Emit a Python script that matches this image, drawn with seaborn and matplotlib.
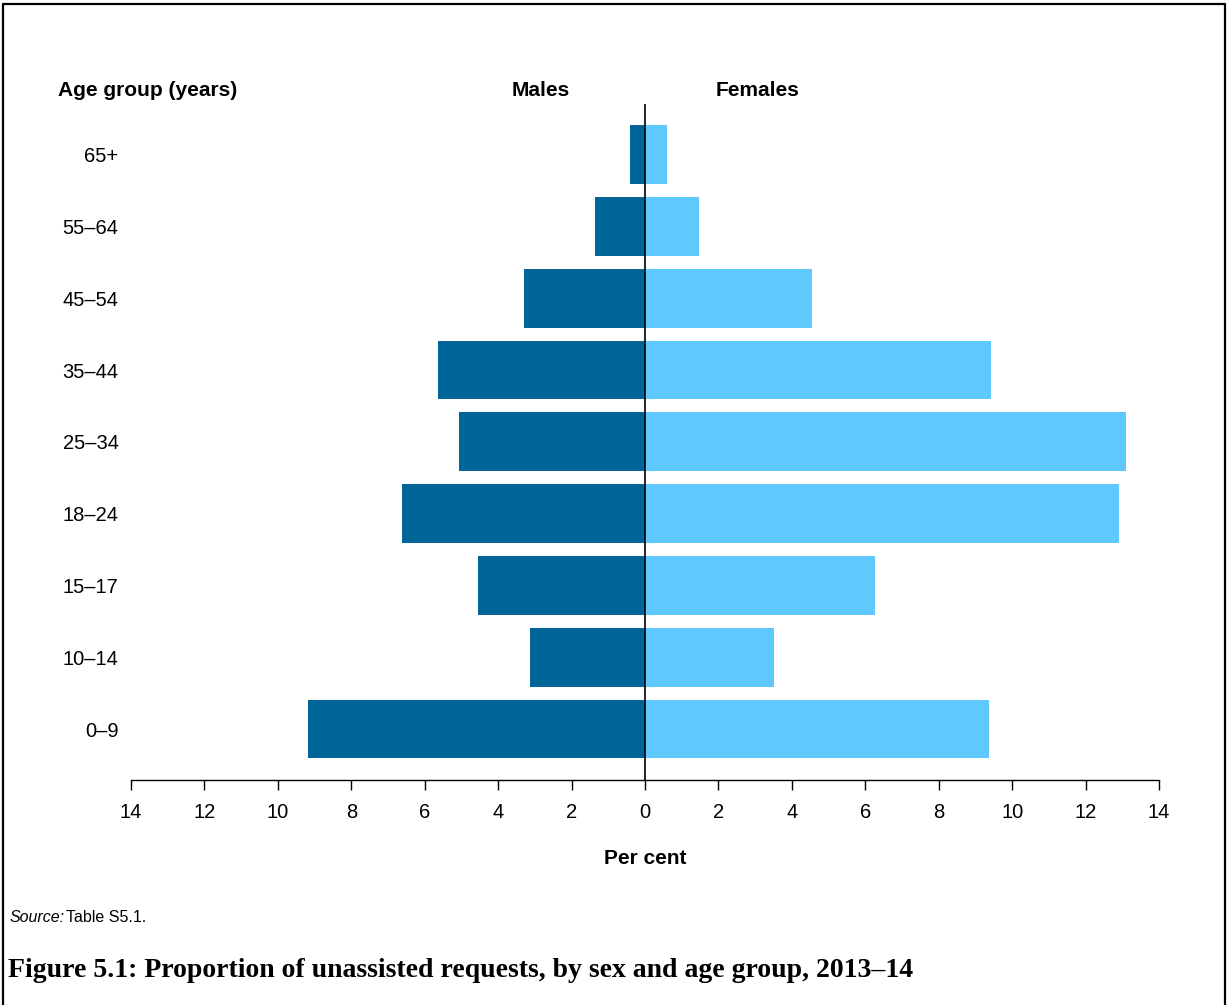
import numpy as np
import pandas as pd
import matplotlib
matplotlib.use("Agg")
import matplotlib.pyplot as plt
import seaborn as sns
from matplotlib.lines import Line2D

# ---- data ----
age_groups = ["65+", "55–64", "45–54", "35–44", "25–34", "18–24", "15–17", "10–14", "0–9"]
males = [0.41, 1.35, 3.30, 5.65, 5.07, 6.62, 4.56, 3.14, 9.18]
females = [0.60, 1.46, 4.56, 9.42, 13.11, 12.91, 6.27, 3.51, 9.38]
x_ticks = [-14, -12, -10, -8, -6, -4, -2, 0, 2, 4, 6, 8, 10, 12, 14]
x_tick_labels = ["14", "12", "10", "8", "6", "4", "2", "0", "2", "4", "6", "8", "10", "12", "14"]

male_color = "#006699"
female_color = "#5FC9FE"

sns.set_style("white")
plt.rcParams["font.family"] = ["Liberation Sans", "DejaVu Sans"]
plt.rcParams["text.color"] = "black"
plt.rcParams["xtick.color"] = "black"
plt.rcParams["ytick.color"] = "black"

df = pd.DataFrame({
    "age": age_groups * 2,
    "value": [-m for m in males] + females,
    "sex": ["Males"] * len(age_groups) + ["Females"] * len(age_groups),
})

W, H = 1228, 1005
fig = plt.figure(figsize=(W / 100, H / 100), dpi=100)
ax = fig.add_axes([131 / W, 1 - 780 / H, 1028 / W, (780 - 104) / H])

sns.barplot(data=df, x="value", y="age", hue="sex", order=age_groups,
            palette={"Males": male_color, "Females": female_color},
            dodge=False, width=0.82, orient="h", linewidth=0, saturation=1,
            legend=False, ax=ax)

ax.set_xlim(-14, 14)
ax.set_ylim(len(age_groups) - 1 + 0.71, -0.706)
ax.axvline(0, color="black", lw=1.2, zorder=5)

for s in ["left", "top", "right"]:
    ax.spines[s].set_visible(False)
ax.spines["bottom"].set_color("black")
ax.spines["bottom"].set_linewidth(1.0)

ax.set_xticks(x_ticks)
ax.set_xticklabels(x_tick_labels, fontsize=14.5)
ax.tick_params(axis="x", direction="out", length=7, width=1.0, color="black", pad=9.5, bottom=True)
ax.tick_params(axis="y", length=0, pad=9, labelsize=14.5)
ax.set_xlabel("")
ax.set_ylabel("")
ax.grid(False)

# headers
hfs = 15
fig.text(58 / W, 1 - 91 / H, "Age group (years)", fontsize=hfs, fontweight="bold", ha="left", va="center")
fig.text(541 / W, 1 - 91 / H, "Males", fontsize=hfs, fontweight="bold", ha="center", va="center")
fig.text(758 / W, 1 - 91 / H, "Females", fontsize=hfs, fontweight="bold", ha="center", va="center")
fig.text(645 / W, 1 - 858 / H, "Per cent", fontsize=hfs, fontweight="bold", ha="center", va="center")

# source and caption
fig.text(10 / W, 1 - 917 / H, "Source:", fontsize=11.5, fontstyle="italic", ha="left", va="center")
fig.text(66 / W, 1 - 917 / H, "Table S5.1.", fontsize=11.5, ha="left", va="center")
fig.text(8 / W, 1 - 970 / H, "Figure 5.1: Proportion of unassisted requests, by sex and age group, 2013–14",
         fontsize=20, fontweight="bold", family=["Liberation Serif", "DejaVu Serif"], ha="left", va="center")

# frame
fig.add_artist(Line2D([3 / W, 3 / W], [0, 1 - 4 / H], color="black", lw=1.6, transform=fig.transFigure))
fig.add_artist(Line2D([1225 / W, 1225 / W], [0, 1 - 4 / H], color="black", lw=1.6, transform=fig.transFigure))
fig.add_artist(Line2D([3 / W, 1225 / W], [1 - 4 / H, 1 - 4 / H], color="black", lw=1.6, transform=fig.transFigure))

fig.savefig("out.png", dpi=100)
